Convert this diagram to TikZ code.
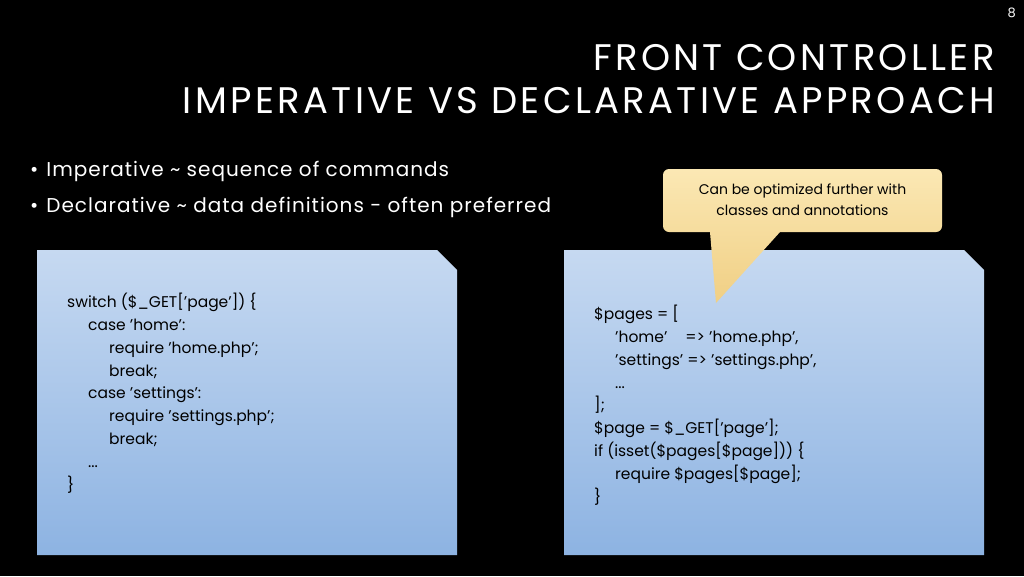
\documentclass[tikz,border=0pt]{standalone}
\usepackage{fontspec}
\setmainfont{Poppins}[Ligatures=ResetAll]
\begin{document}
\begin{tikzpicture}[x=1pt,y=-1pt,
  codebox/.style={top color=codetop,bottom color=codebot,draw=none},
  code/.style={anchor=north west,align=left,font=\fontsize{15.5}{22.8}\selectfont,inner sep=0pt,text=black},
  bullet/.style={anchor=west,text=white,font=\fontsize{20}{22}\selectfont\addfontfeatures{LetterSpace=5},inner sep=0pt}]
\definecolor{codetop}{HTML}{C6D9F1}
\definecolor{codebot}{HTML}{8DB3E2}
\definecolor{calltop}{HTML}{FBE8B4}
\definecolor{callbot}{HTML}{F0CF84}
\fill[black] (0,0) rectangle (1024,576);
\useasboundingbox (0,0) rectangle (1024,576);
\node[text=white,anchor=north east,inner sep=0pt,font=\fontsize{13}{14}\selectfont] (pg) at (1016,8) {8};
\node[text=white,anchor=north east,inner sep=0pt,align=right,font=\fontsize{37}{43}\selectfont\addfontfeatures{LetterSpace=9}] (title) at (995,44) {FRONT CONTROLLER\\IMPERATIVE VS DECLARATIVE APPROACH};
\node[bullet] (b1) at (30,171) {•\hspace{8pt}Imperative \char`\~{} sequence of commands};
\node[bullet] (b2) at (30,207) {•\hspace{8pt}Declarative \char`\~{} data definitions - often preferred};
\path[codebox] (37,250) -- (437,250) -- (457,270) -- (457,555) -- (37,555) -- cycle;
\path[codebox] (564,250) -- (964,250) -- (984,270) -- (984,555) -- (564,555) -- cycle;
\path[top color=calltop,bottom color=callbot,rounded corners=6pt] (663,169) -- (942,169) -- (942,232) [sharp corners] -- (780,232) -- (716,303) -- (710,232) [rounded corners=6pt] -- (663,232) -- cycle;
\node[align=center,font=\fontsize{14}{21}\selectfont,inner sep=0pt] (call) at (802.5,200) {Can be optimized further with\\classes and annotations};
\node[code] (left) at (67,293) {switch (\$\_GET['page']) \{\\
\hspace*{21pt}case 'home':\\
\hspace*{42pt}require 'home.php';\\
\hspace*{42pt}break;\\
\hspace*{21pt}case 'settings':\\
\hspace*{42pt}require 'settings.php';\\
\hspace*{42pt}break;\\
\hspace*{21pt}...\\
\}};
\node[code] (right) at (594,305) {\$pages = [\\
\hspace*{21pt}'home'\hspace*{18pt}=> 'home.php',\\
\hspace*{21pt}'settings' => 'settings.php',\\
\hspace*{21pt}...\\
];\\
\$page = \$\_GET['page'];\\
if (isset(\$pages[\$page])) \{\\
\hspace*{21pt}require \$pages[\$page];\\
\}};
\end{tikzpicture}
\end{document}
